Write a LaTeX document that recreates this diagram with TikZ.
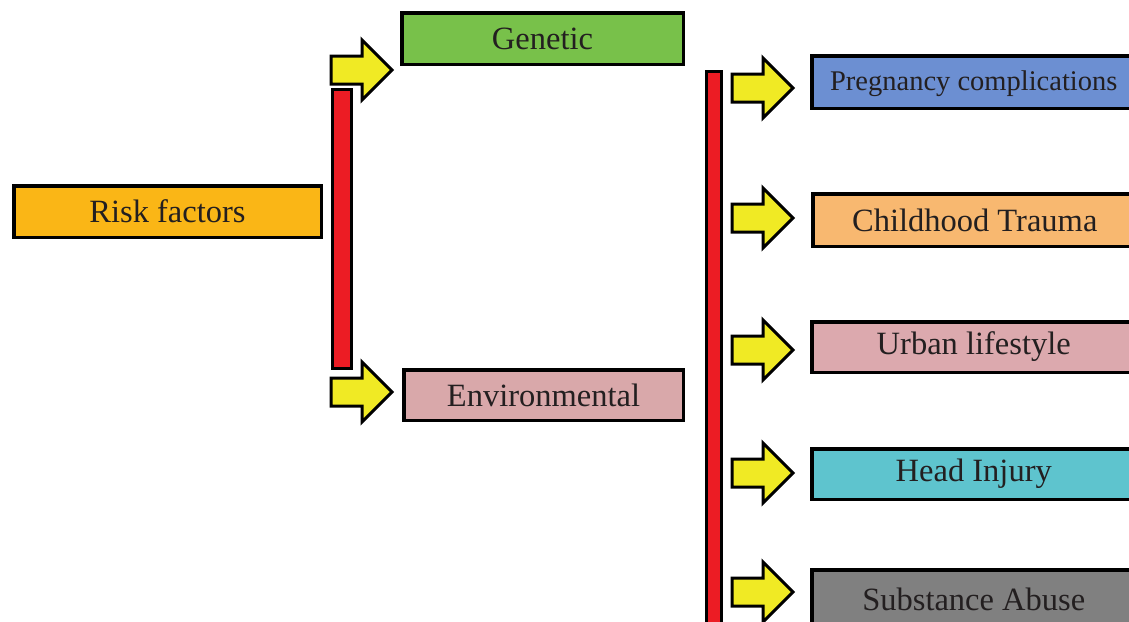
\documentclass[tikz,border=0pt]{standalone}
\usepackage{fontspec}
\setmainfont{Liberation Serif}
\definecolor{cOrange}{RGB}{250,182,22}
\definecolor{cGreen}{RGB}{120,193,74}
\definecolor{cPink}{RGB}{217,168,170}
\definecolor{cBlue}{RGB}{108,143,210}
\definecolor{cLOrange}{RGB}{248,184,112}
\definecolor{cUrban}{RGB}{220,169,174}
\definecolor{cCyan}{RGB}{94,196,206}
\definecolor{cGray}{RGB}{128,128,128}
\definecolor{cRed}{RGB}{236,28,36}
\definecolor{cYellow}{RGB}{240,234,36}
\definecolor{cText}{RGB}{35,31,32}
\tikzset{
  box/.style={draw=black, line width=3.5pt, rectangle, anchor=north west, inner sep=0pt,
    text=cText, font=\fontsize{32.5}{36}\selectfont},
  redbar/.style={draw=black, line width=3pt, fill=cRed, rectangle, anchor=north west, inner sep=0pt},
  yarrow/.pic={\draw[line width=3pt, fill=cYellow, line join=miter]
     (0,-14) -- (31,-14) -- (31,-30) -- (61,0) -- (31,30) -- (31,14) -- (0,14) -- cycle;}
}
\begin{document}
\begin{tikzpicture}[x=1pt,y=-1pt]
\clip (0,0) rectangle (1129,621);
\fill[white] (0,0) rectangle (1129,621);
% left column
\node[box, fill=cOrange, minimum width=307.5, minimum height=51.5] (risk) at (12,184) {Risk factors};
\node[redbar, minimum width=19, minimum height=279] (bar1) at (331,88) {};
\pic at (331,70) {yarrow};
\pic at (331,392) {yarrow};
\node[box, fill=cGreen, minimum width=281.5, minimum height=51.5] (gen) at (400,11) {Genetic};
\node[box, fill=cPink, minimum width=279.5, minimum height=50.5] (env) at (402,368) {Environmental};
% right column
\node[redbar, minimum width=15, minimum height=580] (bar2) at (705,70) {};
\pic at (732,88) {yarrow};
\pic at (732,218) {yarrow};
\pic at (732,350) {yarrow};
\pic at (732,473) {yarrow};
\pic at (732,592) {yarrow};
\node[box, fill=cBlue, minimum width=324, minimum height=52.5, font=\fontsize{28.5}{32}\selectfont, text depth=2pt] (preg) at (810,54) {Pregnancy complications};
\node[box, fill=cLOrange, minimum width=324, minimum height=52.5] (child) at (811,192) {Childhood Trauma};
\node[box, fill=cUrban, minimum width=324, minimum height=50.5] (urban) at (810,320) {Urban lifestyle};
\node[box, fill=cCyan, minimum width=324, minimum height=50.5] (head) at (810,447) {Head Injury};
\node[box, fill=cGray, minimum width=324, minimum height=60] (subst) at (810,568) {Substance Abuse};
\end{tikzpicture}
\end{document}
